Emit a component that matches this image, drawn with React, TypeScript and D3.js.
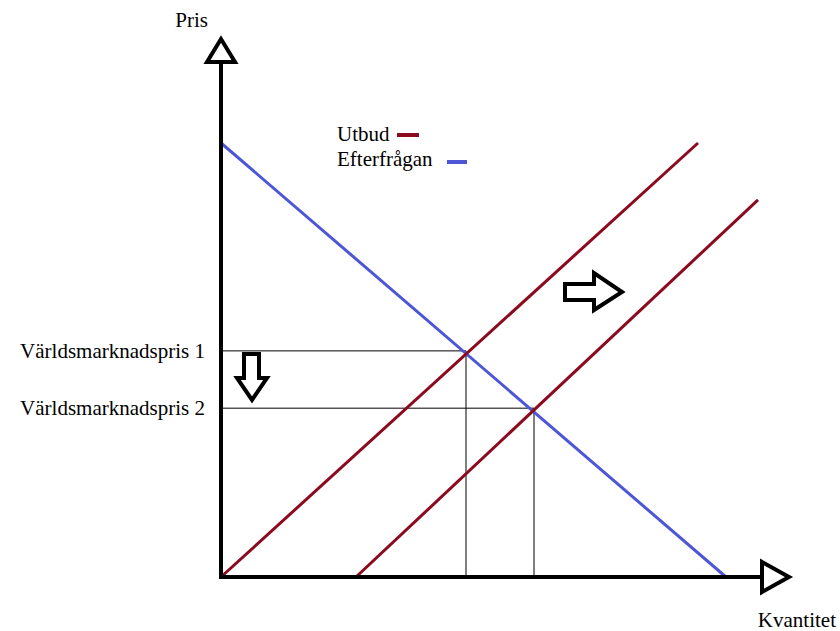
import React from 'react';
import * as d3 from 'd3';

// quantity / price in chart units (0..100)
const demand = [[0, 100], [101, 0]];
const supply1 = [[0, 0], [95.4, 100]];
const supply2 = [[27, 0], [107.4, 86.9]];
const prices = [52.1, 38.9];
const quantities = [49, 62.6];
const priceLabels = ['Världsmarknadspris 1', 'Världsmarknadspris 2'];
const legendItems = ['Utbud', 'Efterfrågan'];
const legendColors = ['#8b0a1e', '#4c56d6'];

const W = 840;
const H = 631;

const App = () => {
  // Scales
  const x = d3.scaleLinear().domain([0, 100]).range([221, 721]);
  const y = d3.scaleLinear().domain([0, 100]).range([577, 143]);

  const line = d3.line<number[]>()
    .x(d => x(d[0]))
    .y(d => y(d[1]));

  const font = '"Liberation Serif", "Times New Roman", serif';
  const fs = 21;

  return (
    <svg width={W} height={H} style={{ position: 'absolute', left: 0, top: 0, background: '#fff' }}
      fontFamily={font}>
      {/* guide lines */}
      {prices.map((p, i) => (
        <g key={'g' + i} stroke="#000" strokeWidth={1}>
          <line x1={x(0)} x2={x(quantities[i])} y1={y(p)} y2={y(p)} />
          <line x1={x(quantities[i])} x2={x(quantities[i])} y1={y(p)} y2={y(0)} />
        </g>
      ))}

      {/* curves */}
      <path d={line(demand) || ''} fill="none" stroke={legendColors[1]} strokeWidth={3} />
      <path d={line(supply1) || ''} fill="none" stroke={legendColors[0]} strokeWidth={3} />
      <path d={line(supply2) || ''} fill="none" stroke={legendColors[0]} strokeWidth={3} />

      {/* axes */}
      <line x1={x(0)} x2={x(0)} y1={y(0) + 2} y2={62} stroke="#000" strokeWidth={4} />
      <line x1={x(0) - 2} x2={762} y1={y(0)} y2={y(0)} stroke="#000" strokeWidth={4} />
      <path d={`M${x(0)},39 L${x(0) - 14},62 L${x(0) + 14},62 Z`} fill="#fff" stroke="#000"
        strokeWidth={4} strokeLinejoin="miter" />
      <path d={`M789,${y(0)} L762,${y(0) - 15} L762,${y(0) + 15} Z`} fill="#fff" stroke="#000"
        strokeWidth={4} />

      {/* shift arrows */}
      <path d="M244,354 L259,354 L259,378 L267,378 L252,400 L237,378 L244,378 Z"
        fill="#fff" stroke="#000" strokeWidth={4} strokeLinejoin="miter" />
      <path d="M565,284 L594,284 L594,273 L622,292 L594,310 L594,300 L565,300 Z"
        fill="#fff" stroke="#000" strokeWidth={4} strokeLinejoin="miter" />

      {/* labels */}
      <text x={208} y={27} fontSize={fs} textAnchor="end">Pris</text>
      <text x={836} y={627} fontSize={fs} textAnchor="end">Kvantitet</text>
      {priceLabels.map((t, i) => (
        <text key={t} x={205} y={y(prices[i]) + 7} fontSize={fs} textAnchor="end">{t}</text>
      ))}

      {/* legend */}
      <text x={337} y={141} fontSize={fs}>{legendItems[0]}</text>
      <line x1={397} x2={419} y1={135} y2={135} stroke={legendColors[0]} strokeWidth={4} />
      <text x={337} y={166} fontSize={fs}>{legendItems[1]}</text>
      <line x1={447} x2={467} y1={162} y2={162} stroke={legendColors[1]} strokeWidth={4} />
    </svg>
  );
};

export default App;
